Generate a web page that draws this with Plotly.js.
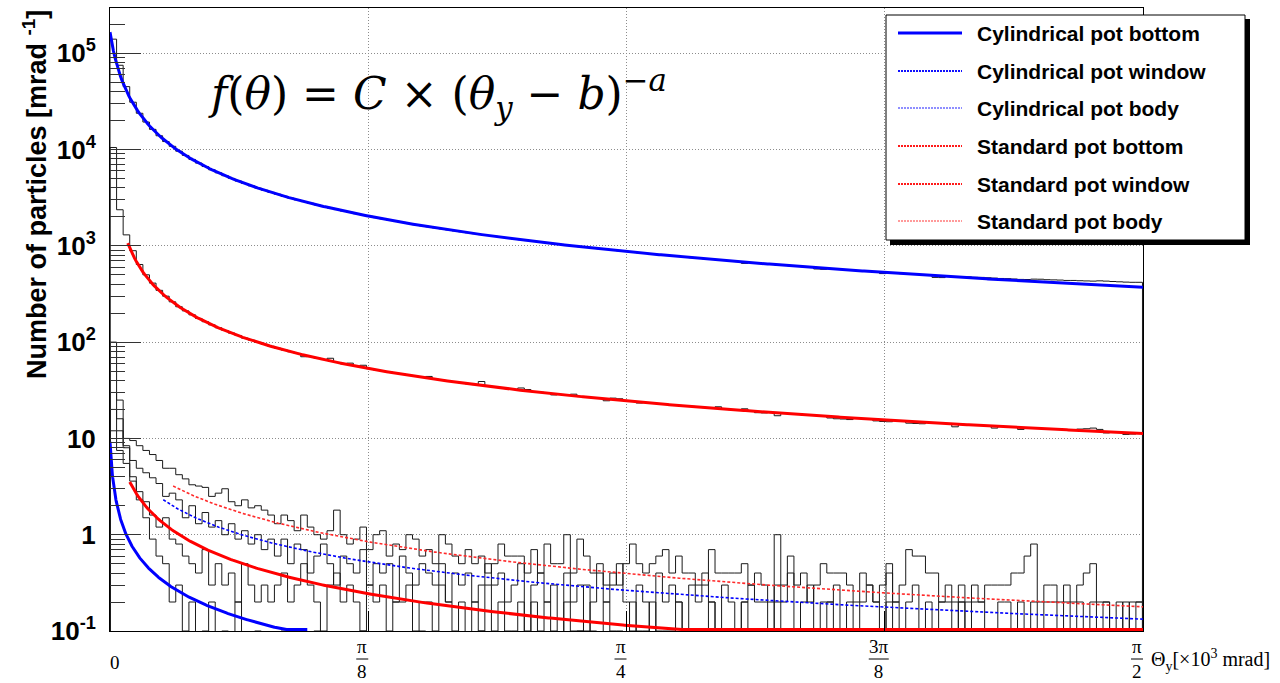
<!DOCTYPE html>
<html>
<head>
<meta charset="utf-8">
<script src="https://cdn.plot.ly/plotly-3.0.1.min.js"></script>
<style>
  html, body { margin: 0; padding: 0; background: #fff; }
  #chart { width: 1280px; height: 683px; }
</style>
</head>
<body>
<div id="chart"></div>
<script>
// Angular distributions, 10 mrad bins; x is in units of 10^3 mrad (0 .. pi/2)
const binWidth = 0.01;

// ---- histograms: particles per mrad in each bin ----
const cylBottom = [
  140000, 75000, 45000, 31000, 23800, 19300, 16200, 13900, 12100, 10800,
  9610, 8680, 7890, 7230, 6660, 6160, 5730, 5350, 5010, 4710,
  4440, 4200, 3980, 3780, 3590, 3430, 3270, 3130, 3000, 2880,
  2765, 2660, 2560, 2470, 2380, 2300, 2225, 2155, 2087, 2023,
  1963, 1905, 1851, 1799, 1750, 1703, 1659, 1616, 1576, 1537,
  1500, 1464, 1430, 1398, 1367, 1337, 1308, 1280, 1253, 1227,
  1203, 1179, 1156, 1134, 1112, 1091, 1071, 1051, 1033, 1014,
  997, 980, 963, 947, 931, 916, 902, 887, 873, 860,
  847, 834, 821, 809, 797, 786, 775, 764, 753, 743,
  733, 723, 714, 704, 695, 686, 657, 669, 660, 652,
  644, 636, 629, 621, 614, 606, 599, 575, 570, 579,
  573, 566, 560, 554, 548, 542, 536, 515, 525, 520,
  514, 509, 504, 499, 494, 470, 468, 480, 475, 471,
  476, 471, 470, 466, 462, 458, 456, 452, 448, 447,
  451, 450, 445, 443, 441, 437, 437, 434, 432, 430,
  433, 430, 426, 423, 420, 418, 418
];

const stdBottom = [
  10500, 2370, 1300, 890, 640, 500, 410, 345, 300, 262,
  233, 211, 192, 176, 163, 151, 141, 132, 124, 117,
  110, 105, 99.4, 94.7, 90.4, 86.4, 82.8, 79.4, 76.3, 70.5,
  70.7, 68.2, 65.9, 68.0, 61.6, 59.7, 60.5, 56.1, 57.5, 52.9,
  51.5, 50.1, 48.8, 47.5, 46.3, 45.2, 44.1, 43.1, 44.0, 41.1,
  40.2, 39.3, 38.5, 37.7, 36.9, 36.2, 39.0, 34.8, 34.1, 33.5,
  32.8, 32.2, 33.4, 32.2, 30.6, 30.1, 29.5, 28.3, 28.6, 28.1,
  28.8, 27.2, 26.8, 26.4, 26.0, 24.6, 26.2, 25.8, 24.5, 24.2,
  23.3, 23.5, 23.2, 22.9, 22.6, 22.3, 22.0, 21.7, 21.5, 21.2,
  20.9, 20.7, 21.3, 20.2, 19.9, 19.7, 20.3, 19.2, 18.5, 18.4,
  18.6, 17.2, 18.2, 18.0, 17.8, 17.6, 17.4, 17.3, 17.1, 16.3,
  16.0, 15.9, 15.7, 16.2, 16.1, 15.9, 15.2, 15.0, 14.9, 15.3,
  15.2, 14.4, 14.3, 14.2, 14.6, 14.5, 14.4, 14.3, 13.2, 14.0,
  13.9, 13.8, 13.65, 13.5, 12.8, 13.3, 13.2, 13.1, 12.4, 12.9,
  12.8, 12.7, 12.6, 12.5, 12.4, 12.3, 12.2, 12.5, 12.6, 12.8,
  12.4, 11.4, 11.65, 11.6, 11.0, 11.1, 11.3
];

const cylWindow = [
  20, 12, 8, 5.9, 4.9, 4.4, 3.9, 3.4, 2.5, 2.7,
  2.3, 1.5, 2.0, 1.3, 1.7, 1.2, 1.4, 1.0, 1.3, 0.9,
  1.1, 0.8, 1.0, 0.7, 0.9,
  0.6, 0.9, 0.5, 0.8, 0.7, 0.4, 0.6, 0.8, 0.5, 0.3, 0.6, 0.5, 0.4, 0.7, 0.3, 0.5, 0.4,
  0.5, 0.2, 0.6, 0.4, 0.3, 0.5, 0.4, 0.3, 0.5, 0.2, 0.4, 0.3, 0.4, 0.2, 0.3, 0.5, 0.3,
  0.4, 0.2, 0.3, 0.5, 0.1, 0.3, 0.4, 0.2, 0.3, 0, 0.4, 0.2, 0.3, 0.1, 0.2, 0.4, 0.2, 0.3, 0.5, 0.2,
  0.1, 0.3, 0.2, 0, 0.4, 0.2, 0.3, 0.2, 0.1, 0.3, 0.2, 0.4, 0.2, 0, 0.3, 0.2, 0.1, 0.2, 0.3, 0.2,
  0.2, 0.1, 0.3, 0.2, 0.4, 0, 0.2, 0.3, 0.1, 0.2, 0.2, 0.3, 0.1, 0.2, 0, 0.2, 0.3, 0.2, 0.1, 0.4,
  0.2, 0.1, 0.2, 0.3, 0, 0.2, 0.1, 0.2, 0.2, 0, 0.3, 0.1, 0.2, 0.2, 0.1, 0, 0.2, 0.2, 0.1, 0.2,
  0.1, 0.2, 0, 0.2, 0.2, 0.1, 0.2, 0, 0.2, 0.1, 0.2, 0.1, 0.2, 0, 0.1, 0.2, 0.1, 0.2
];

const cylBody = [
  100, 25, 8.4, 4.0, 2.3, 1.5, 0.9, 0.6, 0.5, 0.2,
  0.3, 0.1, 0.2, 0, 0.1, 0.2, 0, 0.1, 0, 0.2,
  0, 0, 0.1, 0, 0,
  0, 0.1, 0, 0, 0, 0, 0.1, 0, 0, 0, 0, 0, 0, 0.1, 0, 0, 0, 0, 0, 0,
  0, 0, 0.1, 0, 0, 0, 0, 0, 0, 0, 0, 0.1, 0, 0, 0, 0, 0, 0, 0, 0,
  0, 0, 0, 0, 0, 0, 0.1, 0, 0, 0, 0, 0, 0, 0, 0, 0, 0, 0, 0.1, 0,
  0, 0, 0, 0, 0, 0, 0, 0, 0, 0, 0, 0, 0, 0, 0, 0.1, 0, 0, 0, 0,
  0, 0, 0, 0, 0, 0, 0, 0, 0, 0, 0, 0, 0, 0, 0, 0, 0, 0, 0, 0,
  0, 0, 0, 0, 0, 0, 0, 0, 0, 0, 0.1, 0, 0, 0, 0, 0, 0, 0, 0, 0,
  0, 0, 0, 0, 0, 0, 0, 0, 0, 0, 0, 0
];

const stdWindow = [
  30, 16, 10, 9.5, 8.4, 7.5, 6.8, 5.9, 4.9, 4.9,
  4.2, 3.8, 3.3, 3.2, 3.1, 2.5, 2.7, 3.0, 2.2, 2.0,
  2.3, 1.9, 2.0, 1.8, 1.6,
  1.3, 1.6, 1.4, 1.1, 1.6, 1.2, 1.0, 0.9, 1.1, 1.8,
  1.0, 0.8, 0.9, 1.2, 0.7, 1.0, 1.1, 0.6, 0.8, 0.7,
  1.0, 0.9, 0.6, 0.7, 0.5, 1.0, 0.8, 0.6, 0.5, 0.7,
  0.5, 0.6, 0.4, 0.5,
  0.8, 0.6, 0.6, 0.6, 0.4, 0.7, 0.4, 0.8, 0.5, 0.5,
  1.0, 0.4, 0.9, 0.6, 0.4, 0.5, 0.3, 0.4, 0.3, 0.5,
  0.8, 0.5, 0.4, 0.5, 0.6, 0.7, 0.4, 0.6, 0.4, 0.4,
  0.3, 0.3, 0.7, 0.4, 0.4, 0.4, 0.4, 0.5, 0.3, 0.4,
  0.3, 0.2, 1.0, 0.3, 0.6, 0.3, 0.4, 0.2, 0.3, 0.5,
  0.4, 0.4, 0.4, 0.3, 0.2, 0.4, 0.3, 0.2, 0.3, 0.5,
  0.2, 0.3, 0.7, 0.6, 0.6, 0.4, 0.4, 0.2, 0.3, 0.2,
  0.2, 0.2, 0.3, 0.2, 0.3, 0.3, 0.3, 0.3, 0.4, 0.4,
  0.6, 0.8, 0.2, 0.3, 0.3, 0.2, 0.3, 0.2, 0.3, 0.4,
  0.5, 0.2, 0.2, 0.1, 0.2, 0.1, 0.2, 0.2
];

const stdBody = [
  12, 7.5, 5.5, 3.6, 2.8, 2.2, 1.6, 1.2, 1.5, 0.9,
  0.8, 0.6, 0.5, 0.4, 0.7, 0.3, 0.5, 0.3, 0.4, 0.2,
  0.5, 0.3, 0.2, 0.3, 0.2,
  0.3, 0.4, 0.2, 0.3, 0.5, 0.3, 0.2, 0.1, 0.3, 0.4, 0.2, 0.3, 0.2, 0.1, 0.3, 0.2, 0.3, 0.1, 0.2, 0.2,
  0.3, 0.1, 0.2, 0.2, 0.1, 0.3, 0.2, 0.1, 0.2, 0, 0.2, 0.1, 0.3, 0.1, 0.2, 0.1, 0.1, 0.2, 0, 0.2,
  0.1, 0.2, 0.1, 0, 0.2, 0.1, 0.1, 0.3, 0.1, 0, 0.2, 0.1, 0.1, 0, 0.2, 0.1, 0.1, 0.2, 0, 0.1,
  0.1, 0.2, 0, 0.1, 0.1, 0, 0.2, 0.1, 0, 0.1, 0.1, 0.2, 0, 0.1, 0, 0.1, 0.2, 0.1, 0, 0.1,
  0, 0.1, 0.1, 0, 0.2, 0.1, 0, 0.1, 0, 0.1, 0.1, 0, 0.1, 0.2, 0, 0.1, 0, 0.1, 0, 0.1,
  0.1, 0, 0.1, 0, 0.2, 0, 0.1, 0.1, 0, 0.1, 0, 0, 0.1, 0.1, 0, 0.1, 0, 0.1, 0, 0.1,
  0, 0.1, 0.1, 0, 0, 0.1, 0, 0.1, 0, 0, 0.1, 0
];

// ---- fits f(theta) = C * (theta - b)^(-a), one entry per sample ----
const fitNames = ['Cylindrical pot bottom', 'Cylindrical pot window', 'Cylindrical pot body',
                  'Standard pot bottom', 'Standard pot window', 'Standard pot body'];
const fitC    = [658, 0.21, 0.0277, 18.7, 0.318, 0.0883];
const fitA    = [1.25, 1.0, 1.0, 1.12, 1.2, 1.1];
const fitB    = [-0.012, -0.01, -0.003, 0, -0.05, -0.005];
const fitFrom = [0, 0.081, 0, 0.027, 0.096, 0.03];
const fitTo   = [Math.PI / 2, Math.PI / 2, 0.30, Math.PI / 2, Math.PI / 2, Math.PI / 2];

// ---- axis labels ----
const yTickVals = [0.1, 1, 10, 100, 1000, 10000, 100000];
const yTickText = ['10<sup>-1</sup>', '1', '10', '10<sup>2</sup>', '10<sup>3</sup>', '10<sup>4</sup>', '10<sup>5</sup>'];
const xTickVals = [0, Math.PI / 8, Math.PI / 4, 3 * Math.PI / 8, Math.PI / 2];
const xTickNum  = ['0', 'π', 'π', '3π', 'π'];
const xTickDen  = ['', '8', '4', '8', '2'];

// ---- drawing ----
const yMin = 0.1, yMax = 2.95e5;
const L = 110, R = 1143, T = 8, B = 631;            // frame in pixels
const px = x => (x - L) / (R - L);                   // pixel -> paper x
const py = y => (B - y) / (B - T);                   // pixel -> paper y

function histTrace(values) {
  const floor = 1e-3;                                 // empty bins fall below the frame
  const x = [0], y = [floor];
  values.forEach((v, i) => { x.push(i * binWidth); y.push(v > 0 ? v : floor); });
  const end = values.length * binWidth, last = values[values.length - 1];
  x.push(end); y.push(last > 0 ? last : floor);
  x.push(end); y.push(floor);
  return { type: 'scatter', mode: 'lines', x, y, hoverinfo: 'skip', showlegend: false,
           line: { shape: 'hv', color: '#1a1a1a', width: 1 } };
}

const fitStyles = [
  { color: '#0000ff', width: 3 },
  { color: '#0000ff', width: 1.6, dash: '3px,2px' },
  { color: '#0000ff', width: 3 },
  { color: '#ff0000', width: 3 },
  { color: '#ff2a2a', width: 1.6, dash: '3px,2px' },
  { color: '#ff0000', width: 3 }
];

function fitTrace(k) {
  const n = 600, x = [], y = [];
  const floorDraw = yMin * 1.035;                     // curve is held on the frame bottom
  for (let j = 0; j <= n; j++) {
    const t = fitFrom[k] + (fitTo[k] - fitFrom[k]) * j / n;
    let v = fitC[k] * Math.pow(t - fitB[k], -fitA[k]);
    if (v < floorDraw) v = floorDraw;
    x.push(t); y.push(v);
  }
  return { type: 'scatter', mode: 'lines', x, y, name: fitNames[k], hoverinfo: 'skip',
           showlegend: false, line: fitStyles[k] };
}

const traces = [cylBottom, stdBottom, cylWindow, cylBody, stdWindow, stdBody].map(histTrace)
  .concat([0, 1, 2, 3, 4, 5].map(fitTrace));

// minor ticks on the log axis
const minorVals = [];
for (let e = -1; e <= 5; e++) for (let m = 2; m <= 9; m++) {
  const v = m * Math.pow(10, e);
  if (v < yMax) minorVals.push(v);
}

const serif = 'Liberation Serif, Times New Roman, serif';
const sans = 'Liberation Sans, Arial, sans-serif';

const annotations = [];
const shapes = [];

function label(x, xref, y, text, font, extra) {
  return Object.assign({ x, xref, y, yref: 'paper', text, showarrow: false,
    xanchor: 'center', yanchor: 'middle', font }, extra || {});
}

// x tick labels: numerator over denominator with a fraction bar
const tickFont = { family: serif, size: 19, color: '#000' };
xTickVals.forEach((v, i) => {
  if (!xTickDen[i]) {
    annotations.push(label(v, 'x', py(662), xTickNum[i], tickFont, { xshift: 5 }));
    return;
  }
  annotations.push(label(v, 'x', py(659), xTickNum[i] + '<br>' + xTickDen[i], tickFont,
    { xshift: -6, borderpad: 0 }));
  const half = xTickNum[i].length > 1 ? 10 : 6;
  shapes.push({ type: 'line', xref: 'x', xsizemode: 'pixel', xanchor: v, x0: -6 - half, x1: -6 + half,
    yref: 'paper', y0: py(659), y1: py(659), line: { color: '#000', width: 1 } });
});

// x axis title
annotations.push(label(px(1149), 'paper', py(660), 'Θ<sub>y</sub>[×10<sup>3</sup> mrad]',
  { family: serif, size: 20, color: '#000' }, { xanchor: 'left' }));

// y axis title
annotations.push(label(px(35), 'paper', py(195), 'Number of particles [mrad <sup>-1</sup>]',
  { family: sans, size: 27, color: '#000', weight: 'bold' }, { textangle: -90 }));

// fit formula
annotations.push(label(px(437), 'paper', py(94),
  '<i>f</i>(<i>θ</i>) = <i>C</i> × (<i>θ</i><sub><i>y</i></sub> − <i>b</i>)<sup>−<i>a</i></sup>',
  { family: 'DejaVu Serif, serif', size: 44, color: '#000' }));

// legend box with drop shadow
shapes.push({ type: 'rect', xref: 'paper', yref: 'paper', layer: 'above',
  x0: px(890), x1: px(1250), y0: py(245), y1: py(19), fillcolor: '#000', line: { width: 0 } });
shapes.push({ type: 'rect', xref: 'paper', yref: 'paper', layer: 'above',
  x0: px(886), x1: px(1245), y0: py(240), y1: py(15), fillcolor: '#fff', line: { color: '#000', width: 1 } });

const legendRows = [33, 71, 108, 146, 184, 221];
const legendStyles = [
  { color: '#0000ff', width: 3 },
  { color: '#1010ff', width: 2, dash: '2px,1px' },
  { color: '#6a6aff', width: 1.5, dash: '2px,1px' },
  { color: '#ff1a1a', width: 2, dash: '2px,1px' },
  { color: '#ff1a1a', width: 2, dash: '2px,1px' },
  { color: '#ff7a7a', width: 1.5, dash: '2px,1px' }
];
legendRows.forEach((yy, i) => {
  shapes.push({ type: 'line', xref: 'paper', yref: 'paper', layer: 'above',
    x0: px(898), x1: px(962), y0: py(yy), y1: py(yy), line: legendStyles[i] });
  annotations.push(label(px(975), 'paper', py(yy), fitNames[i],
    { family: sans, size: 21, color: '#000', weight: 'bold' }, { xanchor: 'left' }));
});

const gridStyle = { showgrid: true, gridcolor: '#8c8c8c', griddash: '1px,2px', gridwidth: 1, zeroline: false };

const layout = {
  width: 1280, height: 683,
  margin: { l: L, r: 1280 - R, t: T, b: 683 - B, pad: 0 },
  paper_bgcolor: '#fff', plot_bgcolor: '#fff',
  showlegend: false,
  xaxis: Object.assign({
    range: [0, Math.PI / 2], tickmode: 'array', tickvals: xTickVals, showticklabels: false,
    ticks: 'inside', ticklen: 20, tickcolor: '#000', tickwidth: 1,
    showline: true, mirror: true, linecolor: '#000', linewidth: 1
  }, gridStyle),
  yaxis: Object.assign({
    type: 'log', range: [Math.log10(yMin), Math.log10(yMax)],
    tickmode: 'array', tickvals: yTickVals, ticktext: yTickText,
    ticks: 'inside', ticklen: 31, tickcolor: '#333', tickwidth: 1, ticklabelstandoff: 8,
    tickfont: { family: sans, size: 26, color: '#000', weight: 'bold' },
    minor: { tickmode: 'array', tickvals: minorVals, ticks: 'inside', ticklen: 15, tickcolor: '#333', showgrid: false },
    showline: true, mirror: true, linecolor: '#000', linewidth: 1
  }, gridStyle),
  shapes, annotations
};

Plotly.newPlot('chart', traces, layout, { displayModeBar: false, staticPlot: true });
</script>
</body>
</html>
